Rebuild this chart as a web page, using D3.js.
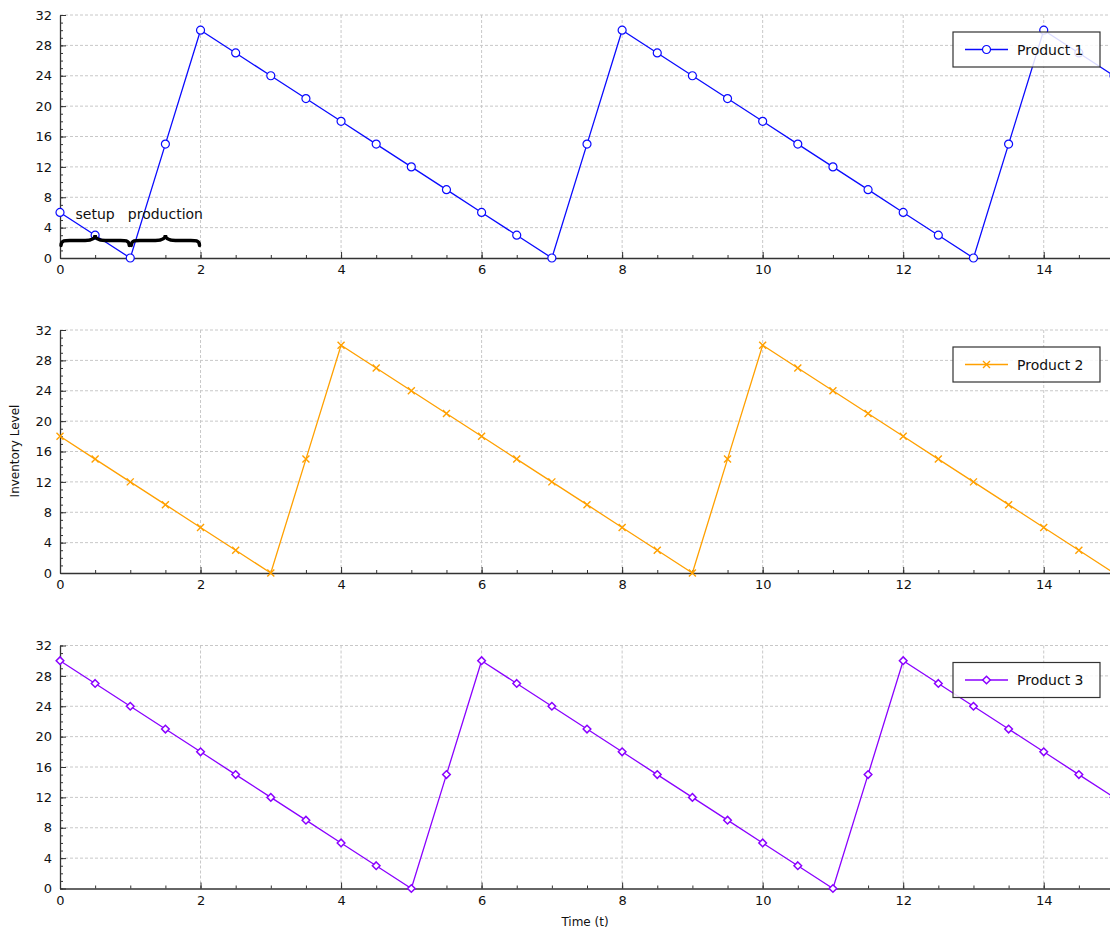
<!DOCTYPE html>
<html>
<head>
<meta charset="utf-8">
<script src="https://cdn.jsdelivr.net/npm/d3@7"></script>
<style>
  html, body { margin: 0; padding: 0; background: #fff; }
  svg { display: block; font-family: "DejaVu Sans", Verdana, sans-serif; }
</style>
</head>
<body>
<svg id="chart" width="1110" height="929"></svg>
<script>
// Time grid (every half period unit)
const times = [0,0.5,1,1.5,2,2.5,3,3.5,4,4.5,5,5.5,6,6.5,7,7.5,8,8.5,9,9.5,10,10.5,11,11.5,12,12.5,13,13.5,14,14.5,15];

// Inventory levels per product
const product1 = [6,3,0,15,30,27,24,21,18,15,12,9,6,3,0,15,30,27,24,21,18,15,12,9,6,3,0,15,30,27,24];
const product2 = [18,15,12,9,6,3,0,15,30,27,24,21,18,15,12,9,6,3,0,15,30,27,24,21,18,15,12,9,6,3,0];
const product3 = [30,27,24,21,18,15,12,9,6,3,0,15,30,27,24,21,18,15,12,9,6,3,0,15,30,27,24,21,18,15,12];

const seriesNames = ["Product 1", "Product 2", "Product 3"];
const seriesColors = ["#0a0aff", "#ffa000", "#8a00ff"];
const seriesMarkers = ["circle", "cross", "diamond"];

const yTicks = [0,4,8,12,16,20,24,28,32];
const xTicks = [0,2,4,6,8,10,12,14];

// Annotation braces on the first panel: [start, end, label]
const braceStarts = [0, 1];
const braceEnds = [1, 2];
const braceLabels = ["setup", "production"];
const braceLevel = 2.3;
const braceTextLevel = 5.1;

const svg = d3.select("#chart");
const W = 1110;
const left = 60;
const panelTops = [15, 330, 645.5];
const panelH = 243;

// the time axis runs a little past the right edge of the page
const x = d3.scaleLinear().domain([0, 15]).range([left, 1114]);

svg.append("defs").append("clipPath").attr("id", "plotclip")
  .append("rect").attr("x", left - 6).attr("y", 0).attr("width", W - left + 6).attr("height", 929);

const allSeries = [product1, product2, product3];

function drawMarker(g, type, color) {
  if (type === "circle") {
    g.append("circle").attr("r", 4).attr("fill", "#fff").attr("stroke", color).attr("stroke-width", 1.2);
  } else if (type === "cross") {
    g.append("path").attr("d", "M-3.5,-3.5L3.5,3.5M-3.5,3.5L3.5,-3.5")
      .attr("stroke", color).attr("stroke-width", 1.4).attr("fill", "none");
  } else {
    g.append("path").attr("d", "M0,-3.8L3.8,0L0,3.8L-3.8,0Z")
      .attr("fill", "#fff").attr("stroke", color).attr("stroke-width", 1.5);
  }
}

// Horizontal curly brace with its tip pointing up
function bracePath(x1, x2, y, h) {
  const mid = (x1 + x2) / 2;
  const q = h * 0.55;
  return `M${x1},${y + h * 0.45}` +
    ` C${x1},${y - q * 0.2} ${x1 + 6},${y} ${x1 + 14},${y}` +
    ` L${mid - 10},${y}` +
    ` C${mid - 4},${y} ${mid},${y - 2} ${mid},${y - h * 0.5}` +
    ` C${mid},${y - 2} ${mid + 4},${y} ${mid + 10},${y}` +
    ` L${x2 - 14},${y}` +
    ` C${x2 - 6},${y} ${x2},${y - q * 0.2} ${x2},${y + h * 0.45}`;
}

allSeries.forEach((vals, i) => {
  const top = panelTops[i];
  const y = d3.scaleLinear().domain([0, 32]).range([top + panelH, top]);
  const g = svg.append("g");
  const color = seriesColors[i];

  // grid
  g.append("g").selectAll("line").data(yTicks.filter(d => d > 0)).join("line")
    .attr("x1", left).attr("x2", W).attr("y1", d => y(d)).attr("y2", d => y(d))
    .attr("stroke", "#c8c8c8").attr("stroke-dasharray", "3,2").attr("stroke-width", 1);
  g.append("g").selectAll("line").data(xTicks.filter(d => d > 0)).join("line")
    .attr("y1", y(0)).attr("y2", y(32)).attr("x1", d => x(d)).attr("x2", d => x(d))
    .attr("stroke", "#c8c8c8").attr("stroke-dasharray", "3,2").attr("stroke-width", 1);

  // axes: minor ticks
  g.append("g").attr("transform", `translate(${left},0)`)
    .call(d3.axisLeft(y).tickValues(d3.range(0, 33, 1)).tickSize(-3).tickFormat(""))
    .call(a => a.select(".domain").remove())
    .selectAll("line").attr("stroke", "#333");
  g.append("g").attr("transform", `translate(0,${y(0)})`)
    .call(d3.axisBottom(x).tickValues(d3.range(0, 15.01, 0.5)).tickSize(-3).tickFormat(""))
    .call(a => a.select(".domain").remove())
    .selectAll("line").attr("stroke", "#333");

  // axes: major ticks with labels
  const ya = g.append("g").attr("transform", `translate(${left},0)`)
    .call(d3.axisLeft(y).tickValues(yTicks).tickSizeInner(-6).tickSizeOuter(0).tickPadding(8));
  ya.select(".domain").attr("stroke", "#333").attr("stroke-width", 1.3);
  ya.selectAll("line").attr("stroke", "#333");
  ya.selectAll("text").attr("font-size", 13).attr("fill", "#111").attr("font-family", "DejaVu Sans");

  const xa = g.append("g").attr("transform", `translate(0,${y(0)})`)
    .call(d3.axisBottom(x).tickValues(xTicks).tickSizeInner(-6).tickSizeOuter(0).tickPadding(7));
  xa.select(".domain").attr("stroke", "#333").attr("stroke-width", 1.3);
  xa.selectAll("line").attr("stroke", "#333");
  xa.selectAll("text").attr("font-size", 13).attr("fill", "#111").attr("font-family", "DejaVu Sans");

  // series line + markers
  const pts = times.map((t, k) => [t, vals[k]]);
  const plot = g.append("g").attr("clip-path", "url(#plotclip)");
  plot.append("path").datum(pts)
    .attr("d", d3.line().x(d => x(d[0])).y(d => y(d[1])))
    .attr("fill", "none").attr("stroke", color).attr("stroke-width", 1.3);
  plot.selectAll("g.m").data(pts).join("g").attr("class", "m")
    .attr("transform", d => `translate(${x(d[0])},${y(d[1])})`)
    .each(function () { drawMarker(d3.select(this), seriesMarkers[i], color); });

  // braces on the first panel
  if (i === 0) {
    const bg = g.append("g");
    braceStarts.forEach((s, k) => {
      bg.append("path")
        .attr("d", bracePath(x(s) + 1, x(braceEnds[k]) - 1, y(braceLevel), 11))
        .attr("fill", "none").attr("stroke", "#000").attr("stroke-width", 3.4)
        .attr("stroke-linecap", "round");
      bg.append("text").attr("x", (x(s) + x(braceEnds[k])) / 2).attr("y", y(braceTextLevel))
        .attr("text-anchor", "middle").attr("font-size", 14).attr("fill", "#111")
        .text(braceLabels[k]);
    });
  }

  // legend
  const lg = g.append("g").attr("transform", `translate(953,${top + 17})`);
  lg.append("rect").attr("width", 147).attr("height", 35)
    .attr("fill", "rgba(255,255,255,0.85)").attr("stroke", "#333").attr("stroke-width", 1.2);
  lg.append("line").attr("x1", 12).attr("x2", 55).attr("y1", 17.5).attr("y2", 17.5)
    .attr("stroke", color).attr("stroke-width", 1.3);
  drawMarker(lg.append("g").attr("transform", "translate(33.5,17.5)"), seriesMarkers[i], color);
  lg.append("text").attr("x", 64).attr("y", 22.5).attr("font-size", 14).attr("fill", "#111")
    .text(seriesNames[i]);
});

// axis titles
svg.append("text").attr("transform", "translate(19,451) rotate(-90)")
  .attr("text-anchor", "middle").attr("font-size", 12).attr("fill", "#111").text("Inventory Level");
svg.append("text").attr("x", 585).attr("y", 926)
  .attr("text-anchor", "middle").attr("font-size", 12).attr("fill", "#111").text("Time (t)");
</script>
</body>
</html>
